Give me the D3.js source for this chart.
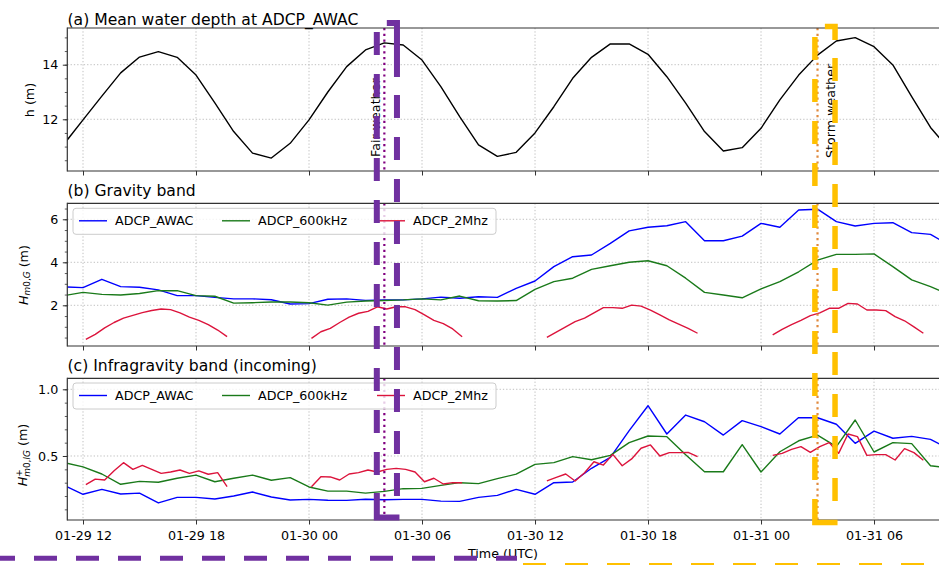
<!DOCTYPE html>
<html><head><meta charset="utf-8">
<script src="https://cdn.jsdelivr.net/npm/d3@7"></script>
<style>
body{margin:0;background:#fff}
svg{display:block;font-family:"DejaVu Sans",sans-serif}
</style>
</head><body>
<svg id="c" width="939" height="565"></svg>
<script>
// ---------------- data ----------------
// hourly samples, hours relative to 01-29 12:00 UTC (-1 .. 46)
const hours = d3.range(-1, 47);
const tickHours = [0, 6, 12, 18, 24, 30, 36, 42];
const tickLabels = ["01-29 12","01-29 18","01-30 00","01-30 06","01-30 12","01-30 18","01-31 00","01-31 06"];
const seriesNames = ["ADCP_AWAC","ADCP_600kHz","ADCP_2Mhz"];
const seriesColors = ["#0000ff","#1a7a1a","#dc143c"];
const titles = ["(a) Mean water depth at ADCP_AWAC","(b) Gravity band","(c) Infragravity band (incoming)"];
const eventHours = [16, 39];
const eventLabels = ["Fair weather","Storm weather"];

const depth = [11.1,11.98,12.85,13.7,14.28,14.48,14.27,13.62,12.6,11.55,10.76,10.58,11.12,11.98,13.0,13.93,14.54,14.8,14.72,14.17,13.2,12.1,11.06,10.64,10.79,11.5,12.46,13.5,14.27,14.76,14.76,14.38,13.56,12.59,11.55,10.84,10.96,11.67,12.71,13.62,14.35,14.87,14.99,14.66,13.99,12.83,11.7,10.9];

const awacG = [2.86,2.82,3.21,2.87,2.84,2.72,2.45,2.45,2.37,2.3,2.3,2.26,2.06,2.08,2.28,2.3,2.23,2.25,2.25,2.3,2.38,2.33,2.4,2.37,2.79,3.13,3.8,4.26,4.34,4.88,5.46,5.63,5.7,5.89,5.0,5.0,5.22,5.81,5.63,6.43,6.47,5.89,5.69,5.81,5.84,5.38,5.3,4.8];
const k600G = [2.45,2.6,2.51,2.48,2.55,2.68,2.68,2.45,2.42,2.1,2.12,2.15,2.15,2.12,2.01,2.15,2.2,2.22,2.25,2.3,2.25,2.43,2.21,2.2,2.22,2.74,3.1,3.26,3.67,3.84,4.0,4.07,3.84,3.26,2.6,2.48,2.35,2.76,3.1,3.56,4.1,4.37,4.37,4.39,3.8,3.18,2.87,2.5];

const awacIG = [0.28,0.213,0.25,0.215,0.222,0.148,0.19,0.19,0.178,0.2,0.23,0.193,0.17,0.175,0.168,0.167,0.176,0.172,0.175,0.175,0.162,0.16,0.19,0.205,0.25,0.213,0.30,0.305,0.408,0.49,0.69,0.877,0.665,0.807,0.757,0.657,0.765,0.72,0.665,0.788,0.787,0.738,0.595,0.687,0.633,0.647,0.625,0.55];
const k600IG = [0.45,0.418,0.365,0.288,0.31,0.303,0.333,0.357,0.307,0.333,0.357,0.318,0.338,0.268,0.237,0.237,0.222,0.235,0.255,0.257,0.28,0.30,0.293,0.33,0.364,0.437,0.45,0.495,0.472,0.505,0.6,0.65,0.645,0.51,0.382,0.382,0.585,0.38,0.532,0.614,0.657,0.57,0.77,0.53,0.6,0.593,0.427,0.41];

// 2 MHz ADCP: half-hourly bursts, four segments
const mhz2Start = [0.15, 12.13, 24.63, 36.62];
const mhz2Step = 0.5;
const mhz2G = [
  [0.42,0.65,0.95,1.2,1.4,1.53,1.66,1.76,1.83,1.8,1.65,1.45,1.3,1.1,0.85,0.54],
  [0.46,0.77,0.93,1.2,1.45,1.63,1.72,1.93,1.83,1.93,1.93,1.8,1.55,1.3,1.15,0.9,0.54],
  [0.51,0.75,1.0,1.24,1.4,1.65,1.89,1.89,1.86,2.01,1.96,1.78,1.55,1.32,1.12,0.93,0.7],
  [0.62,0.88,1.1,1.3,1.52,1.65,1.86,1.86,2.09,2.06,1.78,1.78,1.75,1.47,1.28,1.0,0.7]
];
const mhz2IG = [
  [0.285,0.327,0.32,0.39,0.45,0.40,0.43,0.40,0.37,0.38,0.395,0.37,0.388,0.363,0.375,0.27],
  [0.27,0.345,0.343,0.32,0.365,0.375,0.395,0.38,0.40,0.407,0.40,0.38,0.307,0.333,0.29,0.30,0.30],
  [0.313,0.34,0.365,0.313,0.375,0.457,0.432,0.512,0.427,0.478,0.558,0.583,0.5,0.525,0.525,0.527,0.495],
  [0.505,0.52,0.55,0.57,0.527,0.57,0.6,0.52,0.665,0.645,0.505,0.51,0.51,0.47,0.555,0.525,0.468]
];

// ---------------- drawing ----------------
const svg = d3.select("#c");
svg.append("rect").attr("width",939).attr("height",565).attr("fill","#fff");
const X0 = 67.3, X1 = 939;
const x = d3.scaleLinear().domain([-0.834, 45.45]).range([X0, X1]);
const FS = 12.7;

const panels = [
  {top:28, bottom:171, domain:[10.106,15.344], major:[12,14], minor:d3.range(10.5,15.3,0.5), fmt:d3.format("d"), titleY:24.5,
   series:[{vals:depth,color:"#000"}], legend:false},
  {top:203.3, bottom:346, domain:[0.107,6.744], major:[2,4,6], minor:d3.range(0.5,6.6,0.5), fmt:d3.format("d"), titleY:195.5,
   series:[{vals:awacG,color:seriesColors[0]},{vals:k600G,color:seriesColors[1]}], segs:mhz2G, legend:true, legY:208.3},
  {top:378.3, bottom:520, domain:[0.0202,1.0825], major:[0.5,1.0], minor:d3.range(0.1,1.05,0.1), fmt:d3.format(".1f"), titleY:371,
   series:[{vals:awacIG,color:seriesColors[0]},{vals:k600IG,color:seriesColors[1]}], segs:mhz2IG, legend:true, legY:383}
];

panels.forEach((p, pi) => {
  const y = d3.scaleLinear().domain(p.domain).range([p.bottom, p.top]);
  const g = svg.append("g");
  const cid = "clip" + pi;
  svg.append("clipPath").attr("id", cid).append("rect")
    .attr("x", X0).attr("y", p.top).attr("width", X1 - X0 + 5).attr("height", p.bottom - p.top);

  // grid
  const grid = g.append("g").attr("stroke","#b0b0b0").attr("stroke-width",0.8).attr("stroke-dasharray","1.3,2");
  tickHours.forEach(h => grid.append("line").attr("x1",x(h)).attr("x2",x(h)).attr("y1",p.top).attr("y2",p.bottom));
  p.major.forEach(v => grid.append("line").attr("x1",X0).attr("x2",X1).attr("y1",y(v)).attr("y2",y(v)));

  const plot = g.append("g").attr("clip-path", `url(#${cid})`);
  const line = d3.line().x(d => x(d[0])).y(d => y(d[1]));
  p.series.forEach(s => {
    plot.append("path").attr("d", line(hours.map((h,i)=>[h, s.vals[i]])))
      .attr("fill","none").attr("stroke",s.color).attr("stroke-width",1.4).attr("stroke-linejoin","round");
  });
  if (p.segs) {
    p.segs.forEach((seg, si) => {
      plot.append("path").attr("d", line(seg.map((v,k)=>[mhz2Start[si] + k*mhz2Step, v])))
        .attr("fill","none").attr("stroke",seriesColors[2]).attr("stroke-width",1.4).attr("stroke-linejoin","round");
    });
  }
  // event dotted lines
  const evColors = ["#800080","#e0893d"];
  eventHours.forEach((h,i) => {
    plot.append("line").attr("x1",x(h)).attr("x2",x(h)).attr("y1",p.top).attr("y2",p.bottom)
      .attr("stroke",evColors[i]).attr("stroke-width",2.2).attr("stroke-dasharray","2.2,3.6");
  });

  // spines
  const sp = g.append("g").attr("stroke","#333").attr("stroke-width",1.2);
  sp.append("line").attr("x1",X0).attr("x2",X1).attr("y1",p.top).attr("y2",p.top);
  sp.append("line").attr("x1",X0).attr("x2",X1).attr("y1",p.bottom).attr("y2",p.bottom);
  sp.append("line").attr("x1",X0).attr("x2",X0).attr("y1",p.top-0.6).attr("y2",p.bottom+0.6);

  // x axis
  const xa = g.append("g").attr("transform",`translate(0,${p.bottom})`)
    .call(d3.axisBottom(x).tickValues(tickHours).tickSize(4.5).tickPadding(4.5)
      .tickFormat((d,i) => pi === 2 ? tickLabels[i] : ""));
  xa.select(".domain").remove();
  xa.selectAll("line").attr("stroke","#333").attr("stroke-width",1);
  xa.selectAll("text").attr("font-size",FS).attr("font-family","DejaVu Sans").attr("fill","#000")
    .attr("y",20).attr("dy",0);

  // y axis
  const ya = g.append("g").attr("transform",`translate(${X0},0)`)
    .call(d3.axisLeft(y).tickValues(p.major).tickSize(4.5).tickPadding(4.5).tickFormat(p.fmt));
  ya.select(".domain").remove();
  ya.selectAll("line").attr("stroke","#333").attr("stroke-width",1);
  ya.selectAll("text").attr("font-size",FS).attr("font-family","DejaVu Sans").attr("fill","#000");
  const ym = g.append("g").attr("transform",`translate(${X0},0)`)
    .call(d3.axisLeft(y).tickValues(p.minor).tickSize(2.5).tickFormat(""));
  ym.select(".domain").remove();
  ym.selectAll("line").attr("stroke","#333").attr("stroke-width",0.8);

  // title
  svg.append("text").attr("x",67.5).attr("y",p.titleY).attr("font-size",15.6).attr("fill","#000").text(titles[pi]);

  // legend
  if (p.legend) {
    const lg = svg.append("g");
    lg.append("rect").attr("x",73).attr("y",p.legY).attr("width",423).attr("height",26).attr("rx",3)
      .attr("fill","#fff").attr("fill-opacity",0.8).attr("stroke","#cccccc").attr("stroke-width",1);
    const lx = [79, 222, 377];
    const cy = p.legY + 12.5;
    seriesNames.forEach((n,i) => {
      lg.append("line").attr("x1",lx[i]).attr("x2",lx[i]+28).attr("y1",cy).attr("y2",cy)
        .attr("stroke",seriesColors[i]).attr("stroke-width",1.4);
      lg.append("text").attr("x",lx[i]+36).attr("y",cy).attr("dy","0.36em").attr("font-size",FS).attr("fill","#000").text(n);
    });
  }
});

// event labels
svg.append("text").attr("transform",`translate(379.5,157) rotate(-90)`).attr("font-size",FS).attr("fill","#000").text(eventLabels[0]);
svg.append("text").attr("transform",`translate(834.5,158) rotate(-90)`).attr("font-size",FS).attr("fill","#000").text(eventLabels[1]);

// y labels
svg.append("text").attr("transform","translate(33.5,100) rotate(-90)").attr("text-anchor","middle")
  .attr("font-size",FS).text("h (m)");
svg.append("text").attr("transform","translate(27.5,275) rotate(-90)").attr("text-anchor","middle")
  .attr("font-size",FS)
  .html('<tspan font-style="italic">H</tspan><tspan font-size="8.9" dy="2.6"><tspan font-style="italic">m</tspan>0,<tspan font-style="italic">G</tspan></tspan><tspan dy="-2.6"> (m)</tspan>');
svg.append("text").attr("transform","translate(26.5,455) rotate(-90)").attr("text-anchor","middle")
  .attr("font-size",FS)
  .html('<tspan font-style="italic">H</tspan><tspan font-size="8.9" dy="-5">+</tspan><tspan font-size="8.9" dx="-7.5" dy="8"><tspan font-style="italic">m</tspan>0,<tspan font-style="italic">IG</tspan></tspan><tspan dy="-3"> (m)</tspan>');

// x label
svg.append("text").attr("x",503).attr("y",558).attr("text-anchor","middle").attr("font-size",FS).text("Time (UTC)");

// highlight boxes (annotation overlay)
const purple = "#7030a0", gold = "#ffc000";
function stroke(d, col, w, dash, off) {
  const pth = svg.append("path").attr("d",d).attr("fill","none").attr("stroke",col).attr("stroke-width",w)
    .attr("stroke-linejoin","miter").attr("stroke-linecap","butt");
  if (dash) pth.attr("stroke-dasharray",dash).attr("stroke-dashoffset",off||0);
}
const bxP = [x(15.6), x(16.67)];
const bxY = [x(38.86), x(39.93)];
stroke(`M${bxP[0]+10},23 H${bxP[1]} V77`, purple, 6);
stroke(`M${bxP[1]},95 V497`, purple, 6, "23,19");
stroke(`M${bxP[0]},32 V475`, purple, 6, "23,19");
stroke(`M${bxP[0]},493 V517.5 H${bxP[1]+2.5}`, purple, 6);
stroke(`M${bxY[0]+10},26.5 H${bxY[1]} V40`, gold, 5.5);
stroke(`M${bxY[1]},58 V501`, gold, 5.5, "23,19");
stroke(`M${bxY[0]},37 V480`, gold, 5.5, "23,19");
stroke(`M${bxY[0]},499 V522.5 H${bxY[1]+2.5}`, gold, 5.5);
stroke(`M0,558.3 H517`, purple, 5, "23,19", 8);
stroke(`M523,566 H939`, gold, 6, "23,19");
</script>
</body></html>
